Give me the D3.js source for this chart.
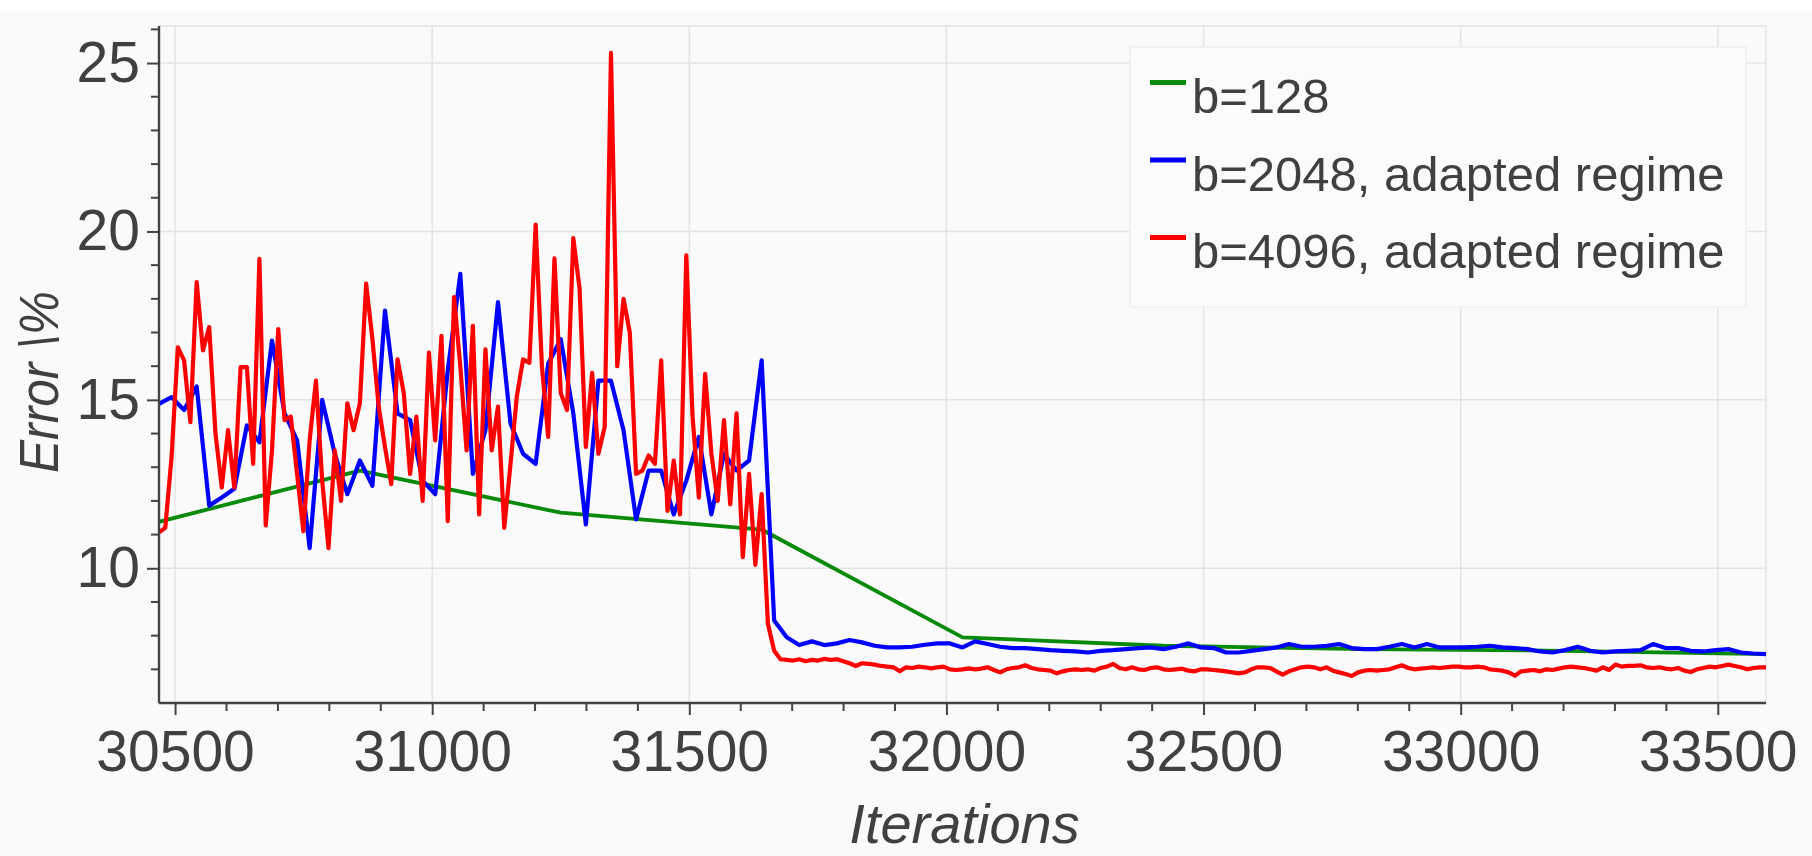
<!DOCTYPE html>
<html>
<head>
<meta charset="utf-8">
<script src="https://cdn.jsdelivr.net/npm/d3@7"></script>
<style>
  html, body { margin: 0; padding: 0; background: #fafafa; }
  svg { display: block; }
  text { font-family: "Liberation Sans", Arial, Helvetica, sans-serif; fill: #404040; }
</style>
</head>
<body>
<script>
// ---------------- data ----------------
const xTicks = [30500, 31000, 31500, 32000, 32500, 33000, 33500];
const yTicks = [10, 15, 20, 25];
const xDomain = [30468.75, 33593.75];
const yDomain = [6, 26.1];

const seriesNames = ["b=128", "b=2048, adapted regime", "b=4096, adapted regime"];
const seriesColors = ["#0a8a0a", "#0000ff", "#ff0000"];

// b=128 : one value per epoch
const greenIter = [30468.75, 30859.375, 31250, 31640.625, 32031.25, 32421.875, 32812.5, 33203.125, 33593.75];
const greenErr  = [11.38, 12.9, 11.65, 11.15, 7.95, 7.7, 7.6, 7.55, 7.45];

// b=2048 : sampled every 24.414 iterations from 30468.75
const blueStart = 30468.75, blueStep = 24.4140625;
const blueErr = [
  14.88, 15.08, 14.7, 15.4, 11.86, 12.1, 12.36, 14.24, 13.74, 16.76,
  14.6, 13.8, 10.6, 15.0, 13.4, 12.2, 13.2, 12.45, 17.65, 14.6,
  14.4, 12.6, 12.2, 15.87, 18.74, 12.8, 14.1, 17.9, 14.3, 13.4,
  13.1, 16.07, 16.8, 14.6, 11.3, 15.57, 15.57, 14.1, 11.45, 12.9,
  12.9, 11.6, 12.6, 13.9, 11.6, 13.4, 12.9, 13.2, 16.17, 8.45,
  7.95, 7.72, 7.83, 7.72, 7.77, 7.87, 7.8, 7.7, 7.65, 7.65,
  7.67, 7.73, 7.77, 7.77, 7.65, 7.83, 7.75, 7.67, 7.63, 7.63,
  7.6, 7.57, 7.55, 7.53, 7.5, 7.55, 7.57, 7.6, 7.63, 7.65,
  7.6, 7.67, 7.77, 7.65, 7.63, 7.5, 7.5, 7.55, 7.6, 7.65,
  7.75, 7.67, 7.67, 7.7, 7.75, 7.63, 7.6, 7.6, 7.67, 7.75,
  7.65, 7.75, 7.65, 7.65, 7.65, 7.67, 7.7, 7.65, 7.63, 7.6,
  7.53, 7.5, 7.57, 7.67, 7.55, 7.5, 7.53, 7.55, 7.57, 7.75,
  7.63, 7.63, 7.55, 7.53, 7.57, 7.6, 7.5, 7.47, 7.45
];

// b=4096 : sampled every 12.207 iterations from 30468.75
const redStart = 30468.75, redStep = 12.20703125;
const redErr = [
  11.07, 11.2, 13.3, 16.56, 16.17, 14.34, 18.5, 16.47, 17.16, 14.0,
  12.4, 14.1, 12.4, 15.97, 15.97, 13.1, 19.19, 11.27, 13.5, 17.1,
  14.4, 14.5, 12.8, 11.1, 13.8, 15.57, 12.6, 10.6, 13.5, 12.0,
  14.9, 14.1, 14.9, 18.45, 16.8, 14.8, 13.6, 12.5, 16.2, 15.2,
  12.8, 14.5, 12.0, 16.4, 13.8, 16.9, 11.4, 18.05, 16.0, 13.5,
  17.2, 11.6, 16.5, 13.5, 14.8, 11.2, 13.1, 15.1, 16.2, 16.1,
  20.2, 16.0, 13.9, 19.2, 15.2, 14.7, 19.8, 18.3, 13.6, 15.8,
  13.4, 14.2, 25.3, 16.0, 18.0, 17.0, 12.8, 12.9, 13.35, 13.1,
  16.17, 11.7, 13.2, 11.6, 19.29, 14.5, 12.1, 15.77, 13.4, 12.0,
  14.4, 11.9, 14.6, 10.33, 12.8, 10.1, 12.2, 8.35, 7.55, 7.3,
  7.28, 7.26, 7.3, 7.24, 7.28, 7.26, 7.31, 7.28, 7.3, 7.24,
  7.18, 7.1, 7.18, 7.16, 7.14, 7.1, 7.08, 7.06, 6.94, 7.06,
  7.04, 7.08, 7.06, 7.03, 7.06, 7.08, 7.0, 6.98, 7.0, 7.03,
  7.0, 7.02, 7.06, 6.98, 6.91, 7.0, 7.04, 7.06, 7.12, 7.04,
  7.0, 6.98, 6.96, 6.88, 6.94, 6.98, 7.0, 6.98, 7.0, 6.96,
  7.04, 7.08, 7.16, 7.04, 7.0, 7.06, 7.0, 6.98, 7.04, 7.06,
  7.0, 6.98, 7.0, 7.02, 6.96, 6.94, 7.0, 7.0, 6.98, 6.96,
  6.94, 6.91, 6.88, 6.91, 7.0, 7.06, 7.06, 7.04, 6.94, 6.84,
  6.94, 7.0, 7.06, 7.08, 7.06, 7.0, 7.06, 6.96, 6.91, 6.86,
  6.8, 6.91, 6.96, 6.98, 6.96, 6.98, 7.0, 7.06, 7.12, 7.04,
  7.0, 7.02, 7.04, 7.06, 7.04, 7.06, 7.08, 7.08, 7.06, 7.06,
  7.08, 7.06, 7.0, 6.98, 6.96, 6.91, 6.81, 6.94, 6.96, 6.98,
  6.94, 7.0, 6.98, 7.02, 7.06, 7.08, 7.06, 7.04, 7.0, 6.96,
  7.06, 6.98, 7.14, 7.08, 7.1, 7.1, 7.12, 7.06, 7.04, 7.06,
  7.02, 7.0, 7.04, 6.96, 6.92, 7.0, 7.04, 7.08, 7.06, 7.1,
  7.14, 7.1, 7.06, 7.0, 7.04, 7.06, 7.06
];

// ---------------- layout ----------------
const W = 1812, H = 856;
const plot = { left: 159, right: 1766, top: 26, bottom: 703 };

const svg = d3.select("body").append("svg").attr("width", W).attr("height", H);

svg.append("rect").attr("x", 0).attr("y", 0).attr("width", W).attr("height", H).attr("fill", "#fafafa");
svg.append("rect").attr("x", 0).attr("y", 0).attr("width", W).attr("height", 12).attr("fill", "#ffffff");

const x = d3.scaleLinear().domain(xDomain).range([plot.left, plot.right]);
const y = d3.scaleLinear().domain(yDomain).range([plot.bottom, plot.top]);

// plot frame (light)
svg.append("rect")
  .attr("x", plot.left).attr("y", plot.top)
  .attr("width", plot.right - plot.left).attr("height", plot.bottom - plot.top)
  .attr("fill", "#fafafa").attr("stroke", "#e4e4e4").attr("stroke-width", 1.5);

// grid
const grid = svg.append("g");
grid.selectAll("line.gx").data(xTicks).join("line")
  .attr("x1", d => x(d)).attr("x2", d => x(d))
  .attr("y1", plot.top).attr("y2", plot.bottom)
  .attr("stroke", "#e4e4e4").attr("stroke-width", 1.5);
grid.selectAll("line.gy").data(yTicks).join("line")
  .attr("x1", plot.left).attr("x2", plot.right)
  .attr("y1", d => y(d)).attr("y2", d => y(d))
  .attr("stroke", "#e4e4e4").attr("stroke-width", 1.5);

// clip
svg.append("clipPath").attr("id", "clip").append("rect")
  .attr("x", plot.left).attr("y", plot.top - 4)
  .attr("width", plot.right - plot.left).attr("height", plot.bottom - plot.top + 4);

const gLines = svg.append("g").attr("clip-path", "url(#clip)");

const lineGen = d3.line().x(d => x(d[0])).y(d => y(d[1]));

const greenPts = greenIter.map((it, i) => [it, greenErr[i]]);
const bluePts = blueErr.map((v, i) => [blueStart + i * blueStep, v]);
const redPts = redErr.map((v, i) => [redStart + i * redStep, v]);

[[greenPts, seriesColors[0], 3.8], [bluePts, seriesColors[1], 4.2], [redPts, seriesColors[2], 4.2]].forEach(([pts, c, w]) => {
  gLines.append("path").datum(pts)
    .attr("d", lineGen)
    .attr("fill", "none")
    .attr("stroke", c)
    .attr("stroke-width", w)
    .attr("stroke-linejoin", "round")
    .attr("stroke-linecap", "round");
});

// axes
const minorX = d3.range(30500, 33600, 100).filter(v => v % 500 !== 0);
const minorY = d3.range(7, 27, 1).filter(v => v % 5 !== 0);

const xAxis = svg.append("g").attr("transform", `translate(0,${plot.bottom})`)
  .call(d3.axisBottom(x).tickValues(xTicks).tickFormat(d3.format("d")).tickSize(12).tickPadding(16));
xAxis.append("g").selectAll("line").data(minorX).join("line")
  .attr("x1", d => x(d)).attr("x2", d => x(d)).attr("y1", 0).attr("y2", 8)
  .attr("stroke", "#444").attr("stroke-width", 2);

const yAxis = svg.append("g").attr("transform", `translate(${plot.left},0)`)
  .call(d3.axisLeft(y).tickValues(yTicks).tickFormat(d3.format("d")).tickSize(12).tickPadding(7));
yAxis.append("g").selectAll("line").data(minorY).join("line")
  .attr("x1", -8).attr("x2", 0).attr("y1", d => y(d)).attr("y2", d => y(d))
  .attr("stroke", "#444").attr("stroke-width", 2);

[xAxis, yAxis].forEach(a => {
  a.select(".domain").attr("stroke", "#444").attr("stroke-width", 2.4)
    .attr("d", a === xAxis ? `M${plot.left},0H${plot.right}` : `M0,${plot.top}V${plot.bottom}`);
  a.selectAll(".tick line").attr("stroke", "#444").attr("stroke-width", 2);
  a.selectAll(".tick text").attr("fill", "#404040")
    .style("font-family", '"Liberation Sans", Arial, sans-serif')
    .style("font-size", "57px");
});

// axis titles
svg.append("text")
  .attr("x", (plot.left + plot.right) / 2 + 2).attr("y", 843)
  .attr("text-anchor", "middle")
  .style("font-size", "56px").style("font-style", "italic")
  .text("Iterations");

svg.append("text")
  .attr("transform", `translate(58,382) rotate(-90)`)
  .attr("text-anchor", "middle")
  .attr("textLength", 182).attr("lengthAdjust", "spacingAndGlyphs")
  .style("font-size", "55px").style("font-style", "italic")
  .text("Error \\%");

// legend
const lg = svg.append("g");
lg.append("rect").attr("x", 1130).attr("y", 47).attr("width", 616).attr("height", 260)
  .attr("fill", "#fbfbfb").attr("stroke", "#efefef").attr("stroke-width", 1.5);
seriesNames.forEach((name, i) => {
  const by = 113 + i * 77.5;
  lg.append("line").attr("x1", 1150).attr("x2", 1186)
    .attr("y1", by - 30.5).attr("y2", by - 30.5)
    .attr("stroke", seriesColors[i]).attr("stroke-width", 5);
  lg.append("text").attr("x", 1192).attr("y", by)
    .style("font-size", "49px").text(name);
});
</script>
</body>
</html>
